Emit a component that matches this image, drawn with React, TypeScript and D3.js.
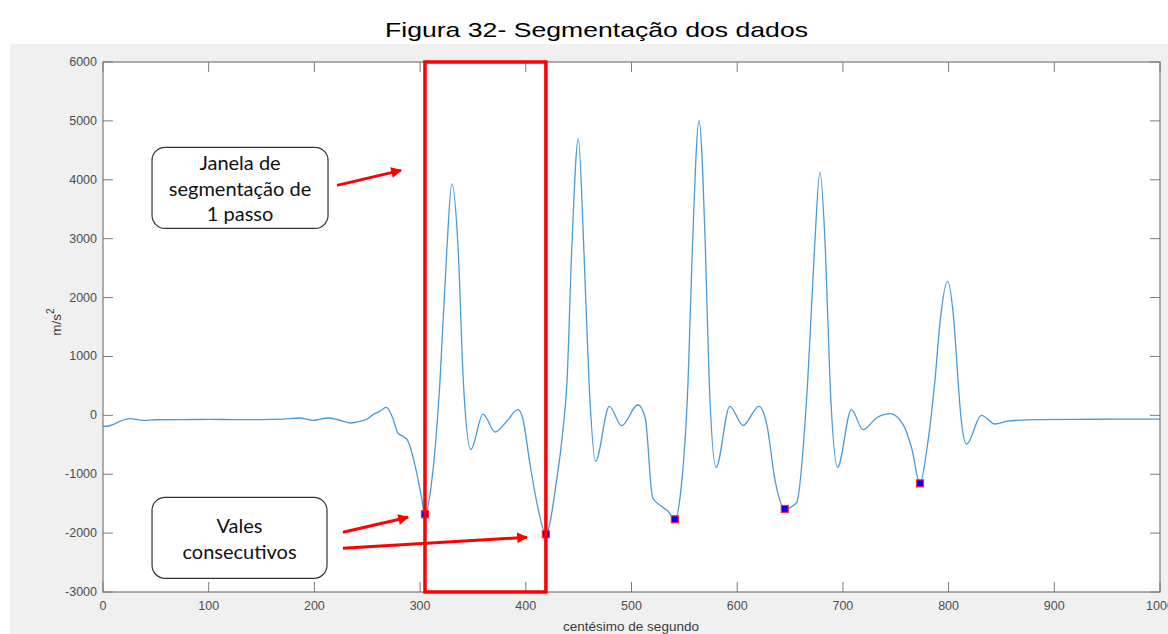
import React from 'react';
import * as d3 from 'd3';

// signal (centésimo de segundo, m/s²)
const timeX = [
  0, 4, 9.5, 15, 25.5, 38, 50, 75, 100, 125, 150, 170, 186, 199, 213, 222, 234, 242, 250, 255.5, 262, 268,
  274, 279, 284, 288, 295, 300.8, 304.6, 311, 318.8, 325.2, 330, 336.1, 340.9, 348, 359.5, 371, 382, 392.6,
  397, 404, 411.5, 419, 429, 435, 439, 443.4, 449.7, 455, 459.8, 466, 479, 490.7, 506, 513, 520, 528.5,
  534.6, 541, 545.9, 553.5, 557.5, 563.9, 570, 573.5, 580, 593, 605.5, 620.6, 628, 636, 645, 656, 666.7,
  673, 678.3, 683.5, 687.8, 695, 708, 719, 732, 744.6, 757, 765, 773, 779.6, 787, 792, 799, 805, 809,
  811.5, 817, 831, 844, 855, 870, 886, 920, 960, 1000,
];
const accelY = [
  -187, -185, -158, -110, -56, -85, -75, -72, -70, -72, -73, -65, -45, -85, -45, -75, -130, -105, -62, 12, 70, 135,
  -40, -300, -360, -420, -832, -1340, -1680, -1120, 577, 2784, 3930, 2784, 577, -580, 22, -283, -100, 97,
  -45, -832, -1573, -2020, -1120, -272, 577, 2784, 4698, 2784, 577, -780, 153, -175, 180, -45, -1400, -1545,
  -1630, -1765, -1400, 577, 2784, 5003, 2784, 577, -883, 153, -170, 153, -153, -1120, -1590, -1490, 577,
  2784, 4131, 2784, 577, -883, 97, -243, -40, 29, -158, -555, -1155, -555, 577, 1600, 2275, 1600, 577,
  0, -487, 0, -147, -100, -80, -73, -68, -66, -65,
];

// detected valleys
const valleyX = [304.6, 419, 541, 645, 773];
const valleyY = [-1680, -2020, -1765, -1590, -1155];

const xTicks = [0, 100, 200, 300, 400, 500, 600, 700, 800, 900, 1000];
const yTicks = [-3000, -2000, -1000, 0, 1000, 2000, 3000, 4000, 5000, 6000];

const titleText = 'Figura 32- Segmentação dos dados';
const xLabel = 'centésimo de segundo';
const box1Lines = ['Janela de', 'segmentação de', '1 passo'];
const box2Lines = ['Vales', 'consecutivos'];

const W = 1168;
const H = 634;
const P = { left: 103, right: 1160, top: 62, bottom: 592 };

export default function App() {
  const x = d3.scaleLinear().domain([0, 1000]).range([P.left, P.right]);
  const y = d3.scaleLinear().domain([-3000, 6000]).range([P.bottom, P.top]);
  const pts: [number, number][] = timeX.map((t, i) => [t, accelY[i]]);
  const line = d3
    .line<[number, number]>()
    .x((d) => x(d[0]))
    .y((d) => y(d[1]))
    .curve(d3.curveMonotoneX);

  const tickLen = 10;
  const axisColor = '#7a7a7a';
  const labelColor = '#4d4d4d';
  const font = '"Liberation Sans", Arial, sans-serif';
  const boxFont = 'Lato, "Open Sans", sans-serif';

  // annotation geometry in data units
  const box1 = { x0: 46.4, x1: 212.9, y0: 4550, y1: 3175 };
  const box2 = { x0: 46.4, x1: 211.9, y0: -1392, y1: -2767 };
  const arrows = [
    { x1: 221.4, y1: 3905, x2: 281.9, y2: 4160 },
    { x1: 227, y1: -1986, x2: 288.6, y2: -1732 },
    { x1: 227, y1: -2258, x2: 401.1, y2: -2071 },
  ];

  const box = (b: typeof box1, lines: string[], lineGap: number) => {
    const bx = x(b.x0);
    const by = y(b.y0);
    const bw = x(b.x1) - x(b.x0);
    const bh = y(b.y1) - y(b.y0);
    const cx = bx + bw / 2;
    const cy = by + bh / 2;
    const startY = cy - ((lines.length - 1) * lineGap) / 2;
    return (
      <g>
        <rect x={bx} y={by} width={bw} height={bh} rx={13} ry={13} fill="#ffffff" stroke="#333333" strokeWidth={1.2} />
        {lines.map((l, i) => (
          <text
            key={i}
            x={cx}
            y={startY + i * lineGap}
            textAnchor="middle"
            dominantBaseline="central"
            fontFamily={boxFont}
            fontSize={20}
            fill="#111111"
          >
            {l}
          </text>
        ))}
      </g>
    );
  };

  return (
    <svg
      width={W}
      height={H}
      viewBox={`0 0 ${W} ${H}`}
      style={{ position: 'absolute', left: 0, top: 0, background: '#ffffff' }}
    >
      <defs>
        <marker id="arrowHead" viewBox="0 0 10 10" refX="9" refY="5" markerWidth="4.2" markerHeight="3.6" orient="auto" markerUnits="strokeWidth">
          <path d="M0,0 L10,5 L0,10 z" fill="#ff0000" />
        </marker>
        <clipPath id="plotClip">
          <rect x={P.left} y={P.top} width={P.right - P.left} height={P.bottom - P.top} />
        </clipPath>
      </defs>

      {/* title */}
      <text
        x={596.5}
        y={37}
        textAnchor="middle"
        fontFamily={font}
        fontSize={21}
        fill="#000000"
        textLength={423}
        lengthAdjust="spacingAndGlyphs"
      >
        {titleText}
      </text>

      {/* figure background */}
      <rect x={10} y={44} width={W - 10} height={H - 44} fill="#f0f0f0" />

      {/* plot area */}
      <rect x={P.left} y={P.top} width={P.right - P.left} height={P.bottom - P.top} fill="#ffffff" />

      {/* ticks */}
      {xTicks.map((t) => (
        <g key={'xt' + t}>
          <line x1={x(t)} x2={x(t)} y1={P.bottom} y2={P.bottom - tickLen} stroke={axisColor} strokeWidth={1} />
          <line x1={x(t)} x2={x(t)} y1={P.top} y2={P.top + tickLen} stroke={axisColor} strokeWidth={1} />
          <text x={x(t)} y={P.bottom + 14} textAnchor="middle" dominantBaseline="central" fontFamily={font} fontSize={12.5} fill={labelColor}>
            {t}
          </text>
        </g>
      ))}
      {yTicks.map((t) => (
        <g key={'yt' + t}>
          <line x1={P.left} x2={P.left + tickLen} y1={y(t)} y2={y(t)} stroke={axisColor} strokeWidth={1} />
          <line x1={P.right} x2={P.right - tickLen} y1={y(t)} y2={y(t)} stroke={axisColor} strokeWidth={1} />
          <text x={P.left - 6} y={y(t)} textAnchor="end" dominantBaseline="central" fontFamily={font} fontSize={12.5} fill={labelColor}>
            {t}
          </text>
        </g>
      ))}

      {/* signal */}
      <g clipPath="url(#plotClip)">
        <path d={line(pts) || ''} fill="none" stroke="#4a9ad6" strokeWidth={1.3} />
        {valleyX.map((vx, i) => (
          <rect key={'v' + i} x={x(vx) - 3.5} y={y(valleyY[i]) - 3.5} width={7} height={7} fill="#0000ee" stroke="#ff2a2a" strokeWidth={1.2} />
        ))}
      </g>

      {/* axes box */}
      <rect x={P.left} y={P.top} width={P.right - P.left} height={P.bottom - P.top} fill="none" stroke={axisColor} strokeWidth={1.2} />

      {/* axis labels */}
      <text x={631} y={626} textAnchor="middle" dominantBaseline="central" fontFamily={font} fontSize={13.5} fill="#3a3a3a">
        {xLabel}
      </text>
      <text transform="translate(56,322) rotate(-90)" textAnchor="middle" dominantBaseline="central" fontFamily={font} fontSize={13.5} fill="#3a3a3a">
        m/s<tspan dy={-6} fontSize={10}>2</tspan>
      </text>

      {/* segmentation window */}
      <rect
        x={x(valleyX[0])}
        y={y(6000)}
        width={x(valleyX[1]) - x(valleyX[0])}
        height={y(-3000) - y(6000)}
        fill="none"
        stroke="#ff0000"
        strokeWidth={3.5}
      />

      {/* callouts */}
      {box(box1, box1Lines, 25.5)}
      {box(box2, box2Lines, 26)}

      {arrows.map((a, i) => (
        <line key={'a' + i} x1={x(a.x1)} y1={y(a.y1)} x2={x(a.x2)} y2={y(a.y2)} stroke="#ff0000" strokeWidth={3} markerEnd="url(#arrowHead)" />
      ))}
    </svg>
  );
}
